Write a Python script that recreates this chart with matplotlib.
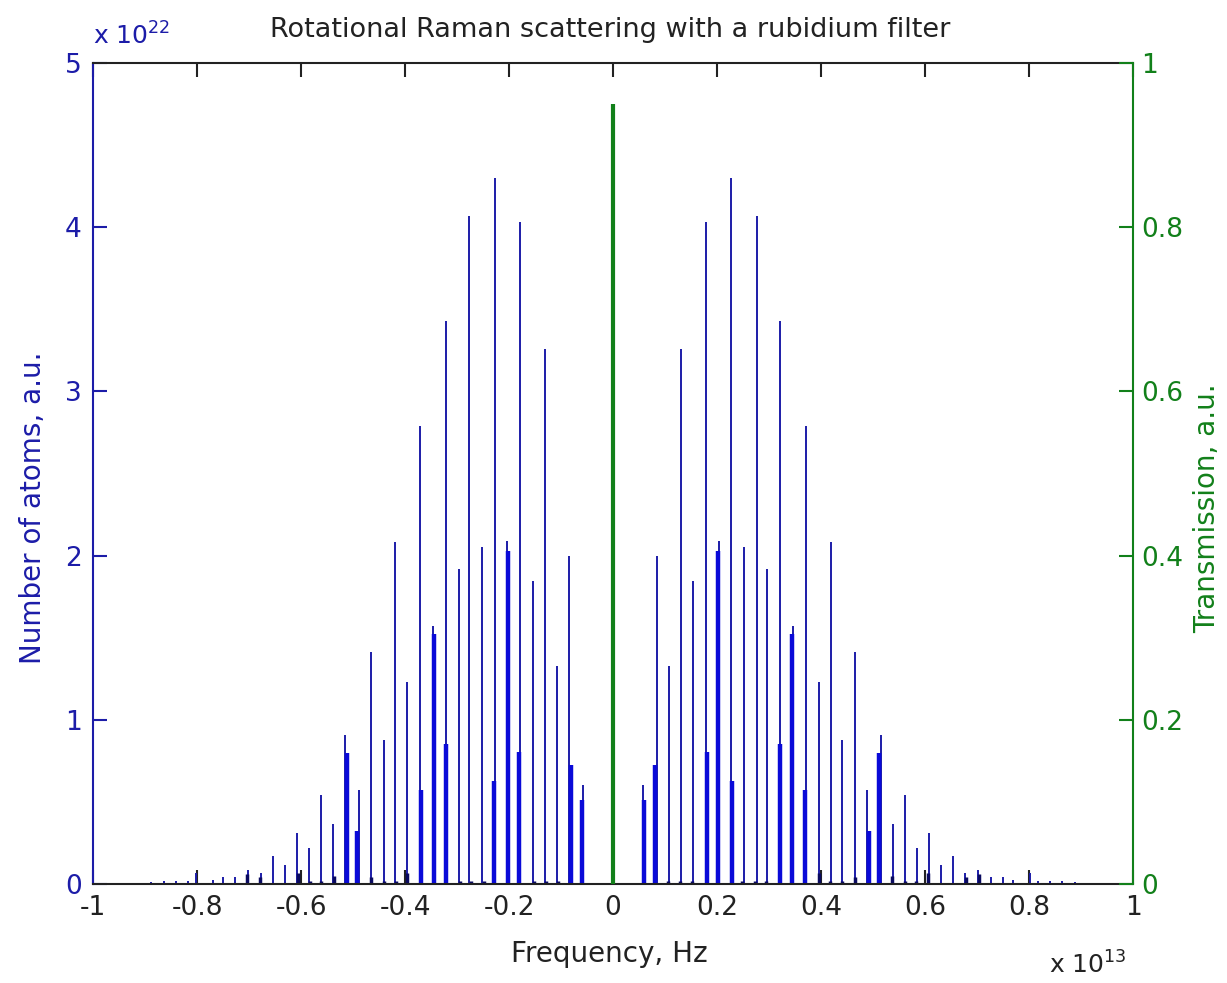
import numpy as np
import matplotlib
matplotlib.use("Agg")
import matplotlib.pyplot as plt

plt.rcParams['font.family'] = ['DejaVu Sans']
plt.rcParams['axes.unicode_minus'] = False

# Raman shift of each line (x 1e13 Hz) and number of atoms (x 1e22).
# Spectrum is symmetric: lines appear at +shift and -shift.
shift_main = [0.057, 0.084, 0.108, 0.131, 0.154, 0.179, 0.203, 0.227, 0.251, 0.276,
              0.297, 0.321, 0.346, 0.371, 0.396, 0.419, 0.441, 0.465, 0.488, 0.515,
              0.539, 0.562, 0.584, 0.608, 0.631, 0.654, 0.676, 0.701, 0.726, 0.750,
              0.769, 0.801, 0.817, 0.840, 0.864, 0.888]
atoms_main = [0.60, 2.00, 1.33, 3.26, 1.845, 4.03, 2.09, 4.30, 2.05, 4.07,
              1.92, 3.43, 1.57, 2.79, 1.23, 2.08, 0.88, 1.415, 0.57, 0.91,
              0.365, 0.54, 0.217, 0.31, 0.115, 0.17, 0.07, 0.085, 0.04, 0.045,
              0.025, 0.07, 0.02, 0.02, 0.02, 0.015]

# overlapping doublets, drawn as bold lines
shift_pair = [0.0596, 0.081, 0.181, 0.202, 0.228, 0.322, 0.345, 0.370, 0.492, 0.5115]
atoms_pair = [0.51, 0.725, 0.806, 2.03, 0.63, 0.85, 1.52, 0.57, 0.325, 0.80]

# small stubs at the base
shift_small = [0.105, 0.129, 0.152, 0.249, 0.273, 0.295, 0.397, 0.417, 0.440, 0.466,
               0.537, 0.561, 0.583, 0.605, 0.678, 0.703]
atoms_small = [0.02, 0.02, 0.02, 0.02, 0.02, 0.02, 0.07, 0.02, 0.02, 0.045,
               0.05, 0.02, 0.02, 0.07, 0.04, 0.06]

# rubidium filter transmission peak
filter_freq = [0.0]
filter_trans = [0.95]

x_ticks = [-1, -0.8, -0.6, -0.4, -0.2, 0, 0.2, 0.4, 0.6, 0.8, 1]
x_labels = ['-1', '-0.8', '-0.6', '-0.4', '-0.2', '0', '0.2', '0.4', '0.6', '0.8', '1']
y1_ticks = [0, 1, 2, 3, 4, 5]
y2_ticks = [0, 0.2, 0.4, 0.6, 0.8, 1]
y2_labels = ['0', '0.2', '0.4', '0.6', '0.8', '1']

BLUE = '#1c1ca8'
BOLD = '#0a0ad8'
GREEN = '#12801a'
DARK = '#222222'

fig = plt.figure(figsize=(12.27, 9.83), dpi=100)
ax = fig.add_axes([0.0758, 0.1007, 0.8476, 0.8352])

def both_sides(s):
    s = np.array(s)
    return np.concatenate([-s, s])

def twice(v):
    v = np.array(v)
    return np.concatenate([v, v])

ax.vlines(both_sides(shift_main), 0, twice(atoms_main), color=BLUE, lw=1.4)
ax.vlines(both_sides(shift_pair), 0, twice(atoms_pair), color=BOLD, lw=3.2)
ax.vlines(both_sides(shift_small), 0, twice(atoms_small), color='#0a0a60', lw=2.5)

ax.set_xlim(-1, 1)
ax.set_ylim(0, 5)
ax.set_xticks(x_ticks)
ax.set_xticklabels(x_labels)
ax.set_yticks(y1_ticks)
ax.tick_params(axis='x', direction='in', length=10, width=1.5, top=True,
               labelsize=19, colors=DARK, pad=8)
ax.tick_params(axis='y', direction='in', length=10, width=1.5, right=False,
               labelsize=19, colors=BLUE, pad=8)
for side in ['top', 'bottom']:
    ax.spines[side].set_color(DARK)
    ax.spines[side].set_linewidth(1.5)
ax.spines['left'].set_color(BLUE)
ax.spines['left'].set_linewidth(1.5)
ax.spines['right'].set_visible(False)

ax2 = ax.twinx()
ax2.vlines(filter_freq, 0, filter_trans, color=GREEN, lw=3)
ax2.set_ylim(0, 1)
ax2.set_yticks(y2_ticks)
ax2.set_yticklabels(y2_labels)
ax2.tick_params(axis='y', direction='in', length=10, width=1.5,
                labelsize=19, colors=GREEN, pad=6)
ax2.spines['right'].set_color(GREEN)
ax2.spines['right'].set_linewidth(1.5)
for side in ['top', 'bottom', 'left']:
    ax2.spines[side].set_visible(False)

fig.text(0.497, 0.969, 'Rotational Raman scattering with a rubidium filter',
         ha='center', va='center', fontsize=19.5, color=DARK)
fig.text(0.497, 0.030, 'Frequency, Hz', ha='center', va='center',
         fontsize=20, color=DARK)
fig.text(0.027, 0.483, 'Number of atoms, a.u.', ha='center', va='center',
         rotation=90, fontsize=20, color=BLUE)
fig.text(0.984, 0.483, 'Transmission, a.u.', ha='center', va='center',
         rotation=90, fontsize=20, color=GREEN)
fig.text(0.076, 0.955, r'x 10$^{22}$', ha='left', va='baseline',
         fontsize=18, color=BLUE)
fig.text(0.855, 0.010, r'x 10$^{13}$', ha='left', va='baseline',
         fontsize=18, color=DARK)

fig.savefig('out.png', dpi=100)
